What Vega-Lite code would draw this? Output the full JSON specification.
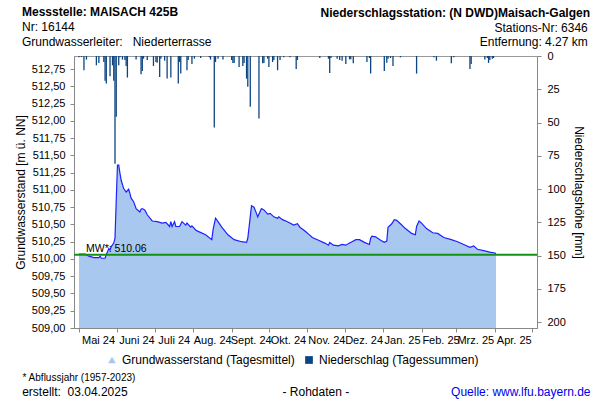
{
  "$schema": "https://vega.github.io/schema/vega-lite/v6.json",
  "width": 463,
  "height": 272,
  "autosize": "none",
  "padding": {"left": 74, "top": 56, "right": 63, "bottom": 72},
  "background": "white",
  "config": {
    "font": "Liberation Sans",
    "view": {"stroke": "#999999", "strokeWidth": 1},
    "axis": {"grid": false, "domainColor": "#888888", "tickColor": "#888888", "labelColor": "black", "titleColor": "black", "labelFont": "Liberation Sans", "titleFont": "Liberation Sans"}
  },
  "title": {
    "text": "Messstelle: MAISACH 425B",
    "subtitle": ["Nr: 16144", "Grundwasserleiter:\u00a0\u00a0 Niederterrasse"],
    "anchor": "start",
    "frame": "group",
    "dx": -52,
    "dy": 50,
    "offset": 8,
    "fontSize": 12,
    "fontWeight": "bold",
    "color": "black",
    "subtitleFontSize": 12,
    "subtitleColor": "black",
    "subtitlePadding": 3,
    "subtitleLineHeight": 15
  },
  "datasets": {
    "gw": [
      {"date": "2024-05-01", "gw": 510.07}, {"date": "2024-05-06", "gw": 510.07}, {"date": "2024-05-09", "gw": 510.04},
      {"date": "2024-05-13", "gw": 510.02}, {"date": "2024-05-17", "gw": 510.02}, {"date": "2024-05-18", "gw": 510.04},
      {"date": "2024-05-19", "gw": 510.01}, {"date": "2024-05-22", "gw": 510.01}, {"date": "2024-05-23", "gw": 510.06},
      {"date": "2024-05-25", "gw": 510.15}, {"date": "2024-05-26", "gw": 510.13}, {"date": "2024-05-27", "gw": 510.18},
      {"date": "2024-05-29", "gw": 510.23}, {"date": "2024-05-30", "gw": 510.30}, {"date": "2024-05-31", "gw": 510.85},
      {"date": "2024-06-01", "gw": 511.36}, {"date": "2024-06-02", "gw": 511.36}, {"date": "2024-06-03", "gw": 511.24},
      {"date": "2024-06-04", "gw": 511.14}, {"date": "2024-06-06", "gw": 511.02}, {"date": "2024-06-08", "gw": 510.97},
      {"date": "2024-06-10", "gw": 511.01}, {"date": "2024-06-11", "gw": 510.95}, {"date": "2024-06-12", "gw": 510.88},
      {"date": "2024-06-14", "gw": 510.83}, {"date": "2024-06-16", "gw": 510.73}, {"date": "2024-06-19", "gw": 510.68},
      {"date": "2024-06-20", "gw": 510.72}, {"date": "2024-06-21", "gw": 510.73}, {"date": "2024-06-23", "gw": 510.71},
      {"date": "2024-06-25", "gw": 510.64}, {"date": "2024-06-29", "gw": 510.55}, {"date": "2024-07-03", "gw": 510.54},
      {"date": "2024-07-07", "gw": 510.52}, {"date": "2024-07-10", "gw": 510.53}, {"date": "2024-07-13", "gw": 510.47},
      {"date": "2024-07-14", "gw": 510.54}, {"date": "2024-07-15", "gw": 510.47}, {"date": "2024-07-17", "gw": 510.54},
      {"date": "2024-07-18", "gw": 510.47}, {"date": "2024-07-21", "gw": 510.47}, {"date": "2024-07-23", "gw": 510.54},
      {"date": "2024-07-26", "gw": 510.49}, {"date": "2024-07-27", "gw": 510.52}, {"date": "2024-07-30", "gw": 510.46},
      {"date": "2024-07-31", "gw": 510.48}, {"date": "2024-08-03", "gw": 510.42}, {"date": "2024-08-05", "gw": 510.40},
      {"date": "2024-08-11", "gw": 510.35}, {"date": "2024-08-16", "gw": 510.28}, {"date": "2024-08-17", "gw": 510.42},
      {"date": "2024-08-19", "gw": 510.59}, {"date": "2024-08-21", "gw": 510.54}, {"date": "2024-08-24", "gw": 510.46},
      {"date": "2024-08-29", "gw": 510.35}, {"date": "2024-09-03", "gw": 510.28}, {"date": "2024-09-09", "gw": 510.25},
      {"date": "2024-09-13", "gw": 510.24}, {"date": "2024-09-14", "gw": 510.30}, {"date": "2024-09-17", "gw": 510.77},
      {"date": "2024-09-19", "gw": 510.75}, {"date": "2024-09-21", "gw": 510.66}, {"date": "2024-09-22", "gw": 510.61},
      {"date": "2024-09-25", "gw": 510.73}, {"date": "2024-09-27", "gw": 510.71}, {"date": "2024-09-30", "gw": 510.65},
      {"date": "2024-10-02", "gw": 510.66}, {"date": "2024-10-05", "gw": 510.61}, {"date": "2024-10-08", "gw": 510.59},
      {"date": "2024-10-09", "gw": 510.61}, {"date": "2024-10-12", "gw": 510.57}, {"date": "2024-10-16", "gw": 510.54},
      {"date": "2024-10-21", "gw": 510.49}, {"date": "2024-10-24", "gw": 510.51}, {"date": "2024-10-26", "gw": 510.46},
      {"date": "2024-10-29", "gw": 510.42}, {"date": "2024-10-31", "gw": 510.39}, {"date": "2024-11-02", "gw": 510.36},
      {"date": "2024-11-05", "gw": 510.31}, {"date": "2024-11-10", "gw": 510.27}, {"date": "2024-11-15", "gw": 510.23},
      {"date": "2024-11-18", "gw": 510.20}, {"date": "2024-11-19", "gw": 510.24}, {"date": "2024-11-22", "gw": 510.20},
      {"date": "2024-11-26", "gw": 510.19}, {"date": "2024-11-29", "gw": 510.21}, {"date": "2024-12-02", "gw": 510.20},
      {"date": "2024-12-05", "gw": 510.23}, {"date": "2024-12-07", "gw": 510.25}, {"date": "2024-12-10", "gw": 510.28},
      {"date": "2024-12-13", "gw": 510.28}, {"date": "2024-12-17", "gw": 510.24}, {"date": "2024-12-21", "gw": 510.21},
      {"date": "2024-12-22", "gw": 510.30}, {"date": "2024-12-23", "gw": 510.33}, {"date": "2024-12-26", "gw": 510.32},
      {"date": "2024-12-30", "gw": 510.27}, {"date": "2025-01-02", "gw": 510.24}, {"date": "2025-01-04", "gw": 510.26},
      {"date": "2025-01-05", "gw": 510.46}, {"date": "2025-01-08", "gw": 510.51}, {"date": "2025-01-10", "gw": 510.57},
      {"date": "2025-01-12", "gw": 510.56}, {"date": "2025-01-15", "gw": 510.51}, {"date": "2025-01-19", "gw": 510.44},
      {"date": "2025-01-24", "gw": 510.37}, {"date": "2025-01-27", "gw": 510.35}, {"date": "2025-01-28", "gw": 510.47},
      {"date": "2025-01-30", "gw": 510.55}, {"date": "2025-02-01", "gw": 510.52}, {"date": "2025-02-05", "gw": 510.44},
      {"date": "2025-02-10", "gw": 510.38}, {"date": "2025-02-14", "gw": 510.37}, {"date": "2025-02-19", "gw": 510.31},
      {"date": "2025-02-25", "gw": 510.28}, {"date": "2025-03-02", "gw": 510.25}, {"date": "2025-03-07", "gw": 510.21},
      {"date": "2025-03-12", "gw": 510.17}, {"date": "2025-03-15", "gw": 510.19}, {"date": "2025-03-18", "gw": 510.14},
      {"date": "2025-03-23", "gw": 510.12}, {"date": "2025-03-28", "gw": 510.10}, {"date": "2025-03-31", "gw": 510.09},
      {"date": "2025-04-02", "gw": 510.08}
    ],
    "ns": [
      {"date": "2024-05-01", "mm": 1}, {"date": "2024-05-03", "mm": 0.8}, {"date": "2024-05-05", "mm": 10.7},
      {"date": "2024-05-07", "mm": 2.7}, {"date": "2024-05-15", "mm": 7}, {"date": "2024-05-17", "mm": 5.2},
      {"date": "2024-05-21", "mm": 4.5}, {"date": "2024-05-22", "mm": 18.7}, {"date": "2024-05-23", "mm": 20.7},
      {"date": "2024-05-26", "mm": 15.2}, {"date": "2024-05-28", "mm": 7}, {"date": "2024-05-29", "mm": 18.7},
      {"date": "2024-05-30", "mm": 81}, {"date": "2024-05-31", "mm": 45.7}, {"date": "2024-06-02", "mm": 7},
      {"date": "2024-06-03", "mm": 1}, {"date": "2024-06-05", "mm": 2.7}, {"date": "2024-06-07", "mm": 3},
      {"date": "2024-06-08", "mm": 7.5}, {"date": "2024-06-09", "mm": 16.2}, {"date": "2024-06-16", "mm": 2.7},
      {"date": "2024-06-20", "mm": 13.7}, {"date": "2024-06-21", "mm": 11.2}, {"date": "2024-06-22", "mm": 2},
      {"date": "2024-06-25", "mm": 3}, {"date": "2024-06-30", "mm": 7.5}, {"date": "2024-07-02", "mm": 4.5},
      {"date": "2024-07-03", "mm": 5}, {"date": "2024-07-05", "mm": 15.7}, {"date": "2024-07-06", "mm": 2},
      {"date": "2024-07-09", "mm": 3.5}, {"date": "2024-07-11", "mm": 17}, {"date": "2024-07-14", "mm": 16.2},
      {"date": "2024-07-20", "mm": 20.7}, {"date": "2024-07-21", "mm": 4.5}, {"date": "2024-07-22", "mm": 13.2},
      {"date": "2024-07-27", "mm": 10.7}, {"date": "2024-07-28", "mm": 3}, {"date": "2024-07-31", "mm": 6},
      {"date": "2024-08-02", "mm": 2}, {"date": "2024-08-07", "mm": 1.5}, {"date": "2024-08-14", "mm": 1},
      {"date": "2024-08-15", "mm": 2.7}, {"date": "2024-08-18", "mm": 53.7}, {"date": "2024-08-19", "mm": 4.5},
      {"date": "2024-08-21", "mm": 2}, {"date": "2024-08-25", "mm": 2.7}, {"date": "2024-09-01", "mm": 3},
      {"date": "2024-09-02", "mm": 5.2}, {"date": "2024-09-03", "mm": 5.2}, {"date": "2024-09-07", "mm": 8.2},
      {"date": "2024-09-10", "mm": 7.5}, {"date": "2024-09-11", "mm": 5.2}, {"date": "2024-09-13", "mm": 17},
      {"date": "2024-09-14", "mm": 23.2}, {"date": "2024-09-16", "mm": 38.2}, {"date": "2024-09-23", "mm": 47},
      {"date": "2024-09-26", "mm": 5.5}, {"date": "2024-09-27", "mm": 5.2}, {"date": "2024-09-30", "mm": 2},
      {"date": "2024-10-01", "mm": 8.2}, {"date": "2024-10-04", "mm": 4.5}, {"date": "2024-10-05", "mm": 3},
      {"date": "2024-10-08", "mm": 10.7}, {"date": "2024-10-10", "mm": 3}, {"date": "2024-10-13", "mm": 1},
      {"date": "2024-10-18", "mm": 1}, {"date": "2024-10-23", "mm": 9.7}, {"date": "2024-10-24", "mm": 3},
      {"date": "2024-11-11", "mm": 1.5}, {"date": "2024-11-18", "mm": 2}, {"date": "2024-11-19", "mm": 12.7},
      {"date": "2024-11-20", "mm": 1.5}, {"date": "2024-11-25", "mm": 2}, {"date": "2024-11-27", "mm": 3},
      {"date": "2024-11-29", "mm": 3.5}, {"date": "2024-12-02", "mm": 6}, {"date": "2024-12-05", "mm": 2.5},
      {"date": "2024-12-06", "mm": 2.5}, {"date": "2024-12-08", "mm": 5.5}, {"date": "2024-12-19", "mm": 4.5},
      {"date": "2024-12-21", "mm": 1.5}, {"date": "2024-12-22", "mm": 13.2}, {"date": "2025-01-02", "mm": 11.2},
      {"date": "2025-01-04", "mm": 5}, {"date": "2025-01-05", "mm": 2}, {"date": "2025-01-07", "mm": 1.5},
      {"date": "2025-01-09", "mm": 7.5}, {"date": "2025-01-15", "mm": 1}, {"date": "2025-01-28", "mm": 13.2},
      {"date": "2025-02-11", "mm": 1}, {"date": "2025-02-13", "mm": 3.5}, {"date": "2025-02-25", "mm": 5.5},
      {"date": "2025-02-27", "mm": 1}, {"date": "2025-03-12", "mm": 9.7}, {"date": "2025-03-13", "mm": 6},
      {"date": "2025-03-24", "mm": 2.7}, {"date": "2025-03-26", "mm": 1.5}, {"date": "2025-03-27", "mm": 5.2},
      {"date": "2025-03-28", "mm": 3}, {"date": "2025-03-30", "mm": 2}, {"date": "2025-03-31", "mm": 1.5}
    ],
    "mw": [{"mw": 510.06, "label": "MW*: 510.06"}]
  },
  "layer": [
    {
      "data": {"name": "gw"},
      "mark": {"type": "area", "opacity": 1, "clip": true},
      "encoding": {
        "x": {
          "field": "date", "type": "temporal",
          "scale": {"type": "utc", "nice": false, "domain": [{"year": 2024, "month": 5, "date": 1, "utc": true}, {"year": 2025, "month": 5, "date": 1, "utc": true}]},
          "axis": {
            "orient": "bottom",
            "values": [
              {"year": 2024, "month": 5, "date": 1, "utc": true}, {"year": 2024, "month": 6, "date": 1, "utc": true},
              {"year": 2024, "month": 7, "date": 1, "utc": true}, {"year": 2024, "month": 8, "date": 1, "utc": true},
              {"year": 2024, "month": 9, "date": 1, "utc": true}, {"year": 2024, "month": 10, "date": 1, "utc": true},
              {"year": 2024, "month": 11, "date": 1, "utc": true}, {"year": 2024, "month": 12, "date": 1, "utc": true},
              {"year": 2025, "month": 1, "date": 1, "utc": true}, {"year": 2025, "month": 2, "date": 1, "utc": true},
              {"year": 2025, "month": 3, "date": 1, "utc": true}, {"year": 2025, "month": 4, "date": 1, "utc": true},
              {"year": 2025, "month": 5, "date": 1, "utc": true}
            ],
            "labelExpr": "(utcyear(datum.value) == 2025 && utcmonth(datum.value) == 4) ? '' : ['Jan.','Feb.','Mrz.','Apr.','Mai','Juni','Juli','Aug.','Sept.','Okt.','Nov.','Dez.'][utcmonth(datum.value)] + ' ' + utcFormat(datum.value, '%y')",
            "labelOffset": 19,
            "labelOverlap": false,
            "labelFlush": false,
            "labelFontSize": 11,
            "labelPadding": 2,
            "tickSize": 4,
            "title": "* Abflussjahr (1957-2023)",
            "titleFontSize": 10,
            "titleFontWeight": "normal",
            "titleX": -52,
            "titleY": 52,
            "titleAlign": "left",
            "titleAnchor": "start",
            "titleBaseline": "alphabetic",
            "titleAngle": 0
          }
        },
        "y": {
          "field": "gw", "type": "quantitative",
          "scale": {"domain": [509, 512.94], "nice": false, "zero": false},
          "axis": {
            "orient": "left",
            "values": [509, 509.25, 509.5, 509.75, 510, 510.25, 510.5, 510.75, 511, 511.25, 511.5, 511.75, 512, 512.25, 512.5, 512.75],
            "labelExpr": "replace(format(datum.value, '.2f'), '.', ',')",
            "labelFontSize": 11,
            "labelPadding": 5,
            "tickSize": 4,
            "title": "Grundwasserstand [m ü. NN]",
            "titleFontSize": 12,
            "titleFontWeight": "normal",
            "titleX": -54,
            "titleY": 136,
            "titleAngle": -90,
            "titleAlign": "center",
            "titleBaseline": "middle"
          }
        },
        "color": {
          "datum": "Grundwasserstand (Tagesmittel)",
          "type": "nominal",
          "scale": {"domain": ["Grundwasserstand (Tagesmittel)", "Niederschlag (Tagessummen)"], "range": ["#a8c8ef", "#0c4582"]},
          "legend": {
            "title": null,
            "orient": "none",
            "legendX": 32,
            "legendY": 298,
            "direction": "horizontal",
            "labelFontSize": 12,
            "labelColor": "black",
            "labelLimit": 0,
            "labelOffset": 4,
            "symbolSize": 60,
            "symbolOpacity": 1,
            "symbolStrokeWidth": 0,
            "columnPadding": 8,
            "padding": 0,
            "encode": {"symbols": {"update": {"shape": {"signal": "datum.value === 'Grundwasserstand (Tagesmittel)' ? 'triangle-up' : 'square'"}}}}
          }
        }
      }
    },
    {
      "data": {"name": "gw"},
      "mark": {"type": "line", "color": "#1f1fff", "strokeWidth": 1.2},
      "encoding": {
        "x": {
          "field": "date", "type": "temporal",
          "axis": {
            "orient": "top", "labels": false, "ticks": false, "domain": false,
            "title": "Niederschlagsstation: (N DWD)Maisach-Galgen",
            "titleFontSize": 12, "titleFontWeight": "bold",
            "titleX": 515.5, "titleY": -39.3, "titleAlign": "right", "titleBaseline": "alphabetic", "titleAngle": 0
          }
        },
        "y": {
          "field": "gw", "type": "quantitative",
          "scale": {"domain": [509, 512.94], "nice": false, "zero": false},
          "axis": {
            "orient": "left", "labels": false, "ticks": false, "domain": false,
            "title": "- Rohdaten -",
            "titleFontSize": 12, "titleFontWeight": "normal",
            "titleX": 208, "titleY": 339, "titleAlign": "left", "titleBaseline": "alphabetic", "titleAngle": 0
          }
        }
      }
    },
    {
      "data": {"name": "mw"},
      "mark": {"type": "rule", "color": "#139113", "strokeWidth": 2},
      "encoding": {
        "y": {
          "field": "mw", "type": "quantitative",
          "scale": {"domain": [509, 512.94], "nice": false, "zero": false},
          "axis": {
            "orient": "left", "labels": false, "ticks": false, "domain": false,
            "title": "erstellt:\u00a0 03.04.2025",
            "titleFontSize": 12, "titleFontWeight": "normal",
            "titleX": -52.3, "titleY": 339, "titleAlign": "left", "titleBaseline": "alphabetic", "titleAngle": 0
          }
        }
      }
    },
    {
      "data": {"name": "mw"},
      "mark": {"type": "text", "align": "left", "baseline": "alphabetic", "dx": 7, "dy": -3, "fontSize": 10.5, "color": "black"},
      "encoding": {
        "x": {
          "datum": {"year": 2024, "month": 5, "date": 1, "utc": true}, "type": "temporal",
          "axis": {
            "orient": "top", "labels": false, "ticks": false, "domain": false,
            "title": ["Stations-Nr: 6346", "Entfernung: 4.27 km"],
            "titleFontSize": 12, "titleFontWeight": "normal", "titleLineHeight": 14.7,
            "titleX": 513.3, "titleY": -24.7, "titleAlign": "right", "titleBaseline": "alphabetic", "titleAngle": 0
          }
        },
        "y": {
          "field": "mw", "type": "quantitative",
          "scale": {"domain": [509, 512.94], "nice": false, "zero": false},
          "axis": null
        },
        "text": {"field": "label"}
      }
    },
    {
      "data": {"name": "ns"},
      "mark": {"type": "bar", "size": 1.3},
      "encoding": {
        "x": {
          "field": "date", "type": "temporal",
          "axis": {
            "orient": "bottom", "labels": false, "ticks": false, "domain": false,
            "title": "Quelle: www.lfu.bayern.de",
            "titleColor": "#0000ee",
            "titleFontSize": 12, "titleFontWeight": "normal",
            "titleX": 516, "titleY": 67, "titleAlign": "right", "titleBaseline": "alphabetic", "titleAngle": 0
          }
        },
        "y": {
          "field": "mm", "type": "quantitative",
          "scale": {"domain": [0, 204.5], "nice": false, "reverse": true},
          "axis": {
            "orient": "right",
            "values": [0, 25, 50, 75, 100, 125, 150, 175, 200],
            "labelFontSize": 11,
            "labelPadding": 6,
            "tickSize": 4,
            "title": "Niederschlagshöhe [mm]",
            "titleFontSize": 12,
            "titleFontWeight": "normal",
            "titleX": 41,
            "titleY": 136,
            "titleAngle": 90,
            "titleAlign": "center",
            "titleBaseline": "middle"
          }
        },
        "color": {
          "datum": "Niederschlag (Tagessummen)",
          "type": "nominal",
          "legend": {
            "title": null,
            "orient": "none",
            "legendX": 32,
            "legendY": 298,
            "direction": "horizontal",
            "labelFontSize": 12,
            "labelColor": "black",
            "labelLimit": 0,
            "labelOffset": 4,
            "symbolSize": 60,
            "symbolOpacity": 1,
            "symbolStrokeWidth": 0,
            "columnPadding": 8,
            "padding": 0,
            "encode": {"symbols": {"update": {"shape": {"signal": "datum.value === 'Grundwasserstand (Tagesmittel)' ? 'triangle-up' : 'square'"}}}}
          }
        }
      }
    }
  ],
  "resolve": {"scale": {"y": "independent"}, "axis": {"x": "independent", "y": "independent"}}
}
